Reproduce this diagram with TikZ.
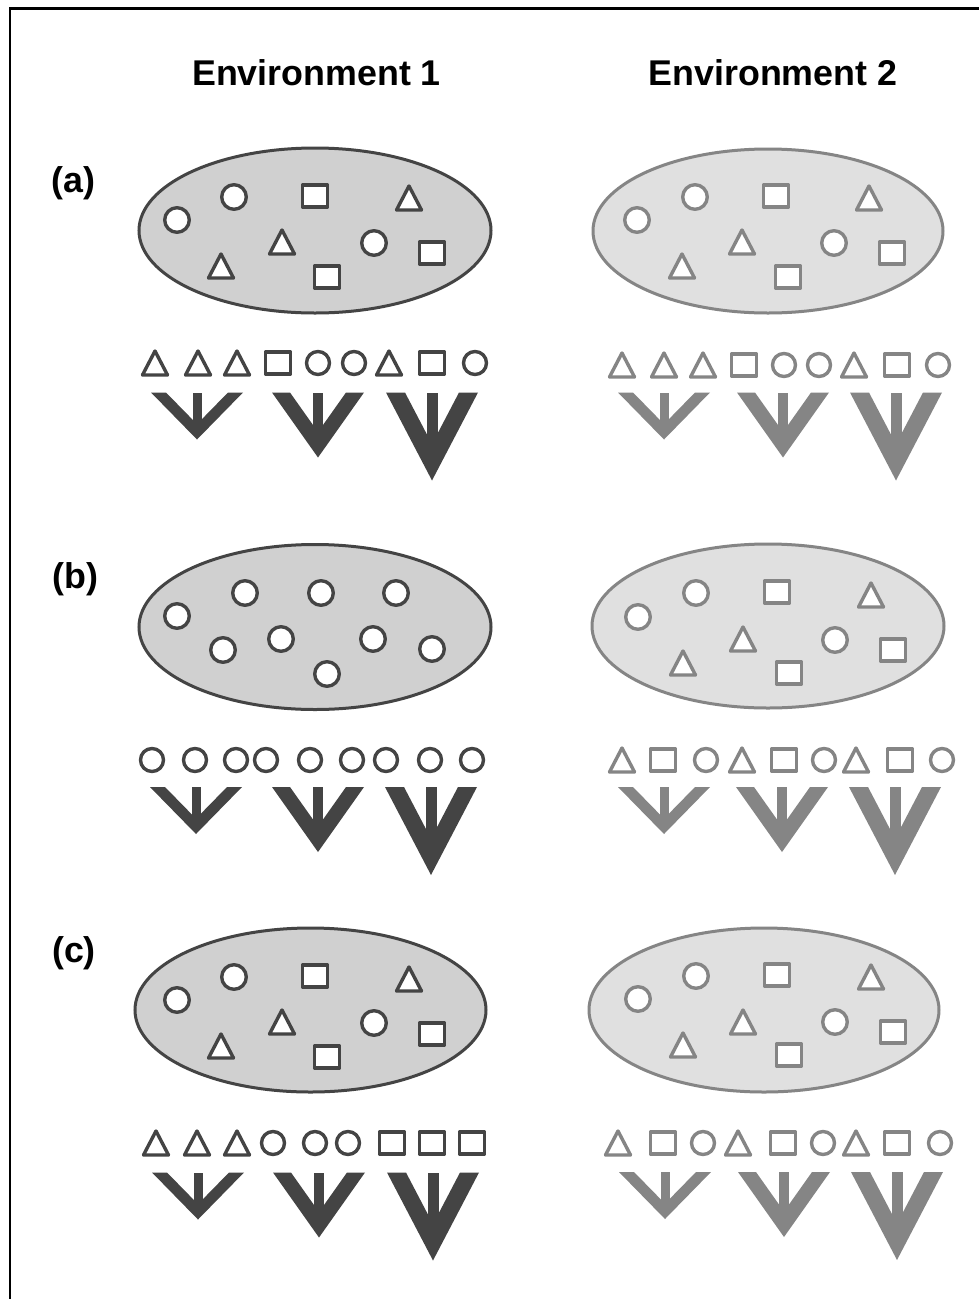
\documentclass[tikz,border=0pt]{standalone}
\usepackage{fontspec}
\setmainfont{Liberation Sans}
\definecolor{dk}{HTML}{444444}
\definecolor{lt}{HTML}{858585}
\definecolor{fa}{HTML}{D0D0D0}
\definecolor{fb}{HTML}{E0E0E0}
\tikzset{
  sh/.style={line width=3.4, fill=white, line join=round},
  envell/.style={line width=3},
  lab/.style={font=\bfseries\fontsize{35.8}{40}\selectfont, inner sep=0pt, anchor=base},
  frameline/.style={line width=2.5, black},
}
\newcommand\Ci[4][12.3]{\draw[sh,draw=#2] (#3,#4) circle[radius=#1];}
\newcommand\Sq[3]{\draw[sh,draw=#1] (#2,#3) ++(-12.5,-11) rectangle ++(25,22);}
\newcommand\Tr[3]{\draw[sh,draw=#1] (#2,#3) ++(-12.5,12) -- ++(12.5,-24) -- ++(12.5,24) -- cycle;}
\newcommand\Arr[7]{%
  \pgfmathsetmacro\iy{(#4-#6)*#5/#4}%
  \fill[#1] (#2-#4,#3) -- (#2-#4+#6,#3) -- (#2,#3+\iy) -- (#2+#4-#6,#3) -- (#2+#4,#3) -- (#2,#3+#5) -- cycle;
  \fill[#1] (#2-#7/2,#3) rectangle (#2+#7/2,#3+\iy+2);
}
\newcommand\Arrows[5]{% color, cx1, cx2, cx3, top
  \Arr{#1}{#2}{#5}{46}{47}{15}{9}
  \Arr{#1}{#3}{#5}{46}{65}{18}{10.5}
  \Arr{#1}{#4}{#5}{46}{88}{19}{11}
}
\begin{document}
\begin{tikzpicture}[x=1pt,y=-1pt]
\useasboundingbox (0,0) rectangle (978,1299);
\fill[white] (0,0) rectangle (978,1299);
% frame
\draw[frameline] (10,1310) -- (10,8.5) -- (990,8.5);

% headings
\node[lab] (env1) at (316.5,85) {Environment 1};
\node[lab] (env2) at (773,85) {Environment 2};
\node[lab] (la) at (73.5,192.5) {(a)};
\node[lab] (lb) at (75.5,588.5) {(b)};
\node[lab] (lc) at (74,962) {(c)};

% ===== Row (a) =====
\draw[envell,draw=dk,fill=fa] (315,230.5) ellipse[x radius=176, y radius=82.5];
\Ci{dk}{177}{220}\Ci{dk}{234}{197}\Sq{dk}{315}{196}\Tr{dk}{409}{198}
\Tr{dk}{282}{242}\Tr{dk}{221}{266}\Ci{dk}{374}{243}\Sq{dk}{432}{253}\Sq{dk}{327}{277}

\draw[envell,draw=lt,fill=fb] (768,231) ellipse[x radius=175, y radius=82];
\Ci{lt}{637}{220}\Ci{lt}{695}{197}\Sq{lt}{776}{196}\Tr{lt}{869}{198}
\Tr{lt}{742}{242}\Tr{lt}{682}{266}\Ci{lt}{834}{243}\Sq{lt}{892}{253}\Sq{lt}{788}{277}

\Tr{dk}{155}{363}\Tr{dk}{198}{363}\Tr{dk}{237}{363}\Sq{dk}{278}{363}\Ci[11.5]{dk}{318}{363}
\Ci[11.5]{dk}{354}{363}\Tr{dk}{389}{363}\Sq{dk}{432}{363}\Ci[11.5]{dk}{475}{363}

\Tr{lt}{622}{365}\Tr{lt}{664}{365}\Tr{lt}{703}{365}\Sq{lt}{744}{365}\Ci[11.5]{lt}{784}{365}
\Ci[11.5]{lt}{819}{365}\Tr{lt}{854}{365}\Sq{lt}{897}{365}\Ci[11.5]{lt}{938}{365}

\Arrows{dk}{197}{318}{432}{392.5}
\Arrows{lt}{664}{783}{896}{392.5}

% ===== Row (b) =====
\draw[envell,draw=dk,fill=fa] (315,627) ellipse[x radius=176, y radius=82.5];
\Ci{dk}{177}{616}\Ci{dk}{245}{593}\Ci{dk}{321}{593}\Ci{dk}{396}{593}
\Ci{dk}{281}{639}\Ci{dk}{223}{650}\Ci{dk}{373}{639}\Ci{dk}{432}{649}\Ci{dk}{327}{674}

\draw[envell,draw=lt,fill=fb] (768,626) ellipse[x radius=176, y radius=82];
\Ci{lt}{638}{617}\Ci{lt}{696}{593}\Sq{lt}{777}{592}\Tr{lt}{871}{595}
\Tr{lt}{743}{639}\Tr{lt}{683}{663}\Ci{lt}{835}{640}\Sq{lt}{893}{650}\Sq{lt}{789}{673}

\foreach \xx in {152,195,236,266,310,352,386,430,472} {\Ci[11.5]{dk}{\xx}{760}}

\Tr{lt}{622}{760}\Sq{lt}{663}{760}\Ci[11.5]{lt}{706}{760}\Tr{lt}{742}{760}\Sq{lt}{784}{760}
\Ci[11.5]{lt}{824}{760}\Tr{lt}{856}{760}\Sq{lt}{900}{760}\Ci[11.5]{lt}{942}{760}

\Arrows{dk}{196}{318}{431}{787}
\Arrows{lt}{664}{782}{895}{787}

% ===== Row (c) =====
\draw[envell,draw=dk,fill=fa] (310.5,1010) ellipse[x radius=175.5, y radius=82];
\Ci{dk}{177}{1000}\Ci{dk}{234}{977}\Sq{dk}{315}{976}\Tr{dk}{409}{979}
\Tr{dk}{282}{1022}\Tr{dk}{221}{1046}\Ci{dk}{374}{1023}\Sq{dk}{432}{1034}\Sq{dk}{327}{1057}

\draw[envell,draw=lt,fill=fb] (764,1010) ellipse[x radius=175, y radius=82];
\Ci{lt}{638}{999}\Ci{lt}{696}{976}\Sq{lt}{777}{975}\Tr{lt}{871}{977}
\Tr{lt}{743}{1022}\Tr{lt}{683}{1045}\Ci{lt}{835}{1022}\Sq{lt}{893}{1032}\Sq{lt}{789}{1055}

\Tr{dk}{156}{1143}\Tr{dk}{197}{1143}\Tr{dk}{237}{1143}\Ci[11.5]{dk}{273}{1143}\Ci[11.5]{dk}{315}{1143}
\Ci[11.5]{dk}{348}{1143}\Sq{dk}{392}{1143}\Sq{dk}{432}{1143}\Sq{dk}{472}{1143}

\Tr{lt}{618}{1143}\Sq{lt}{663}{1143}\Ci[11.5]{lt}{703}{1143}\Tr{lt}{738}{1143}\Sq{lt}{783}{1143}
\Ci[11.5]{lt}{823}{1143}\Tr{lt}{856}{1143}\Sq{lt}{897}{1143}\Ci[11.5]{lt}{940}{1143}

\Arrows{dk}{198}{319}{433}{1172.5}
\Arrows{lt}{665}{784}{897}{1172}
\end{tikzpicture}
\end{document}
